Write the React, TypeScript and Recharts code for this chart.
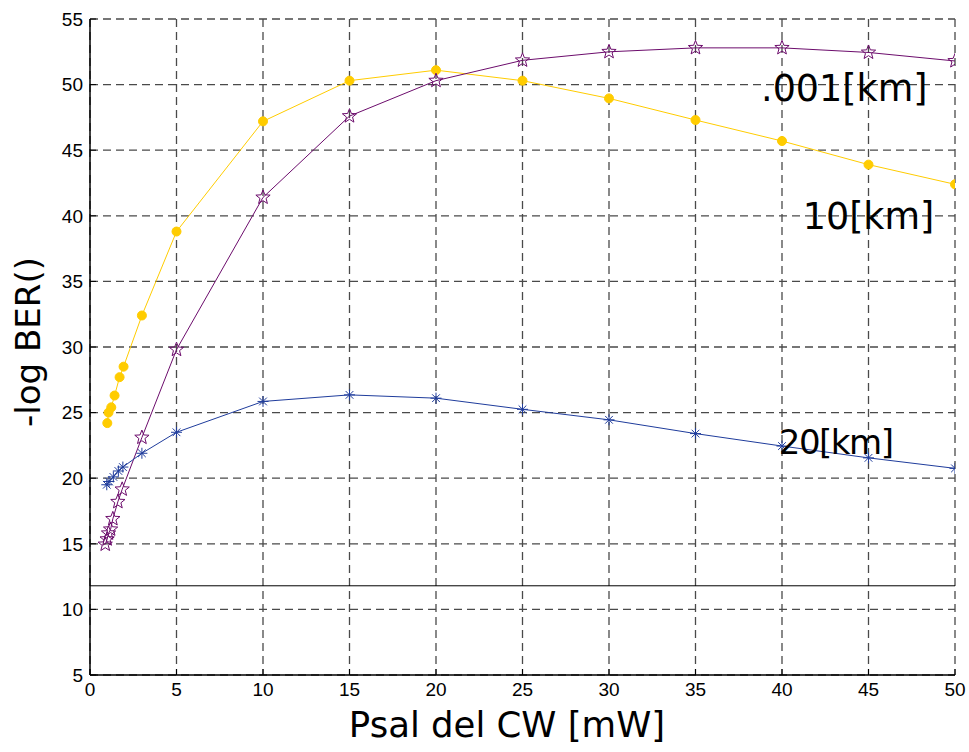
import { LineChart, Line, XAxis, YAxis, CartesianGrid, ReferenceLine, ReferenceDot } from 'recharts'

// Psal del CW [mW] for each curve
const kmLowX = [0.88, 0.99, 1.07, 1.19, 1.32, 1.61, 1.86, 3, 5, 10, 15, 20, 25, 30, 35, 40, 45, 50]
const kmLowY = [14.95, 15.35, 15.8, 16.1, 16.9, 18.2, 19.15, 23.1, 29.8, 41.4, 47.6, 50.3, 51.85, 52.5, 52.8, 52.8, 52.45, 51.8]

const km10X = [1.0, 1.07, 1.23, 1.42, 1.71, 1.94, 3, 5, 10, 15, 20, 25, 30, 35, 40, 45, 50]
const km10Y = [24.2, 25.0, 25.4, 26.3, 27.7, 28.5, 32.4, 38.8, 47.2, 50.3, 51.1, 50.3, 48.95, 47.3, 45.7, 43.9, 42.4]

const km20X = [0.97, 1.1, 1.35, 1.64, 1.9, 3, 5, 10, 15, 20, 25, 30, 35, 40, 45, 50]
const km20Y = [19.5, 19.75, 20.1, 20.55, 20.85, 21.9, 23.5, 25.85, 26.35, 26.1, 25.25, 24.45, 23.4, 22.45, 21.55, 20.75]

const xTicks = [0, 5, 10, 15, 20, 25, 30, 35, 40, 45, 50]
const yTicks = [5, 10, 15, 20, 25, 30, 35, 40, 45, 50, 55]
const thresholdY = 11.8

const PURPLE = '#6c0c6c'
const YELLOW = '#ffcc00'
const BLUE = '#1f3c9c'

const toPoints = (xs: number[], ys: number[]) => xs.map((x, i) => ({ x, y: ys[i] }))

const tickFont = { fontFamily: 'Liberation Sans, Arial, sans-serif', fontSize: 19, fill: '#000' }

const StarDot = ({ cx, cy }: any) => {
  if (cx == null || cy == null) return null
  const pts: string[] = []
  for (let i = 0; i < 10; i++) {
    const r = i % 2 === 0 ? 7.5 : 3.2
    const a = -Math.PI / 2 + (i * Math.PI) / 5
    pts.push(`${cx + r * Math.cos(a)},${cy + r * Math.sin(a)}`)
  }
  return <polygon points={pts.join(' ')} fill="none" stroke={PURPLE} strokeWidth={1} />
}

const CircleDot = ({ cx, cy }: any) => {
  if (cx == null || cy == null) return null
  return <circle cx={cx} cy={cy} r={4.5} fill={YELLOW} stroke={YELLOW} />
}

const AsteriskDot = ({ cx, cy }: any) => {
  if (cx == null || cy == null) return null
  const r = 5.5
  const d = r * 0.7
  return (
    <g stroke={BLUE} strokeWidth={1}>
      <line x1={cx - r} y1={cy} x2={cx + r} y2={cy} />
      <line x1={cx} y1={cy - r} x2={cx} y2={cy + r} />
      <line x1={cx - d} y1={cy - d} x2={cx + d} y2={cy + d} />
      <line x1={cx - d} y1={cy + d} x2={cx + d} y2={cy - d} />
    </g>
  )
}

// tick labels plus the small inward tick marks matlab draws
const LeftTick = ({ x, y, payload }: any) => (
  <g>
    <text x={x} y={y} dy="0.355em" textAnchor="end" {...tickFont}>{payload.value}</text>
    <line x1={x + 7} y1={y} x2={x + 13} y2={y} stroke="#000" />
  </g>
)

const BottomTick = ({ x, y, payload }: any) => (
  <g>
    <text x={x} y={y} dy="0.71em" textAnchor="middle" {...tickFont}>{payload.value}</text>
    <line x1={x} y1={y - 8} x2={x} y2={y - 14} stroke="#000" />
  </g>
)

const RightTick = ({ x, y }: any) => <line x1={x} y1={y} x2={x - 6} y2={y} stroke="#000" />
const TopTick = ({ x, y }: any) => <line x1={x} y1={y} x2={x} y2={y + 6} stroke="#000" />

const labelFont = { fontFamily: 'DejaVu Sans, Verdana, sans-serif', fill: '#000' }

const curveLabel = (value: string, size = 36.5, spacing = 0) => ({
  value,
  position: 'center' as const,
  style: { ...labelFont, fontSize: size, letterSpacing: spacing },
})

export default function App() {
  return (
    <div style={{ position: 'absolute', left: 0, top: 0, width: 969, height: 752, background: '#fff' }}>
      <LineChart width={969} height={752} margin={{ top: 19, right: 14, bottom: 47, left: 30 }}>
        <CartesianGrid stroke="#4a4a4a" strokeDasharray="8 5" strokeWidth={1.3} />
        <XAxis
          dataKey="x"
          type="number"
          domain={[0, 50]}
          ticks={xTicks}
          allowDataOverflow
          height={30}
          tickLine={false}
          tickSize={0}
          tickMargin={8}
          axisLine={{ stroke: '#000', strokeWidth: 1.5 }}
          tick={<BottomTick />}
          label={{
            content: () => (
              <text x={507} y={737} textAnchor="middle" {...labelFont} fontSize={35.5}>Psal del CW [mW]</text>
            ),
          }}
        />
        <XAxis
          xAxisId="top"
          orientation="top"
          type="number"
          domain={[0, 50]}
          ticks={xTicks}
          height={0}
          tickLine={false}
          tickSize={0}
          tickMargin={0}
          axisLine={{ stroke: '#000', strokeWidth: 1.5 }}
          tick={<TopTick />}
        />
        <YAxis
          type="number"
          domain={[5, 55]}
          ticks={yTicks}
          allowDataOverflow
          width={60}
          tickLine={false}
          tickSize={0}
          tickMargin={7}
          axisLine={{ stroke: '#000', strokeWidth: 1.5 }}
          tick={<LeftTick />}
          label={{
            content: () => (
              <text x={40} y={342} transform="rotate(-90 40 342)" textAnchor="middle" {...labelFont} fontSize={34}>
                -log BER()
              </text>
            ),
          }}
        />
        <YAxis
          yAxisId="right"
          orientation="right"
          type="number"
          domain={[5, 55]}
          ticks={yTicks}
          width={0}
          tickLine={false}
          tickSize={0}
          tickMargin={0}
          axisLine={{ stroke: '#000', strokeWidth: 1.5 }}
          tick={<RightTick />}
        />
        <ReferenceLine y={thresholdY} stroke="#000" strokeWidth={1} />
        <Line
          data={toPoints(km10X, km10Y)}
          dataKey="y"
          type="linear"
          stroke={YELLOW}
          strokeWidth={1}
          dot={<CircleDot />}
          isAnimationActive={false}
        />
        <Line
          data={toPoints(kmLowX, kmLowY)}
          dataKey="y"
          type="linear"
          stroke={PURPLE}
          strokeWidth={1}
          dot={<StarDot />}
          isAnimationActive={false}
        />
        <Line
          data={toPoints(km20X, km20Y)}
          dataKey="y"
          type="linear"
          stroke={BLUE}
          strokeWidth={1}
          dot={<AsteriskDot />}
          isAnimationActive={false}
        />
        <ReferenceDot x={43.6} y={49.75} r={0} fill="none" stroke="none" label={curveLabel('.001[km]')} />
        <ReferenceDot x={45.0} y={40.0} r={0} fill="none" stroke="none" label={curveLabel('10[km]')} />
        <ReferenceDot x={43.1} y={22.8} r={0} fill="none" stroke="none" label={curveLabel('20[km]', 34, -1.5)} />
      </LineChart>
    </div>
  )
}
